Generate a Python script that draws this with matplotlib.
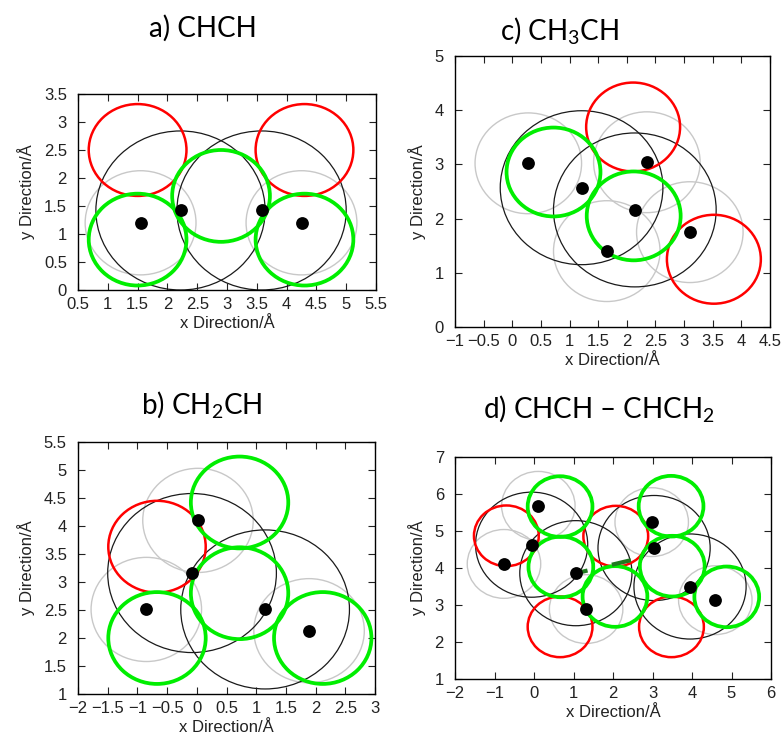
import matplotlib
matplotlib.use("Agg")
import matplotlib.pyplot as plt
from matplotlib.patches import Ellipse
from matplotlib.ticker import FuncFormatter
import numpy as np

W, H = 783, 738

# radii (Angstrom)
R_C = 1.42      # black, carbon sphere
R_H = 0.93      # grey, hydrogen sphere
R_SITE = 0.82   # green / red sites

# a) CHCH
a_carbon = [(2.22, 1.42), (3.58, 1.42)]
a_hydrogen = [(1.55, 1.20), (4.25, 1.20)]
a_green = [(1.50, 0.90), (2.90, 1.68), (4.30, 0.90)]
a_red = [(1.50, 2.50), (4.30, 2.50)]

# b) CH2CH
b_carbon = [(-0.08, 3.16), (1.15, 2.51)]
b_hydrogen = [(0.02, 4.10), (-0.85, 2.51), (1.89, 2.13)]
b_green = [(0.72, 4.42), (0.72, 2.80), (-0.67, 2.00), (2.12, 2.00)]
b_red = [(-0.67, 3.63)]

# c) CH3CH
c_carbon = [(1.21, 2.57), (2.14, 2.16)]
c_hydrogen = [(0.28, 3.02), (2.35, 3.04), (1.65, 1.40), (3.10, 1.75)]
c_green = [(0.72, 2.86), (2.12, 2.05)]
c_red = [(2.11, 3.69), (3.52, 1.25)]

# d) CHCH - CHCH2
d_carbon = [(-0.06, 4.63), (1.06, 3.86), (3.04, 4.54), (3.95, 3.50)]
d_hydrogen = [(0.11, 5.68), (-0.76, 4.11), (1.32, 2.89), (2.98, 5.24), (4.59, 3.13)]
d_green = [(0.66, 5.66), (0.68, 4.03), (2.05, 3.23), (3.47, 5.67), (3.50, 4.05), (4.88, 3.22)]
d_red = [(-0.70, 4.87), (2.07, 4.86), (0.66, 2.41), (3.48, 2.41)]
d_bond = [(1.15, 3.88), (2.45, 4.21)]

panels = [
    # title, title centre (px), axes box (l, t, r, b px), xlim, ylim, xticks, yticks, data
    ("a) CHCH", (203, 28), (78, 94, 376, 290), (0.5, 5.5), (0, 3.5),
     np.arange(0.5, 5.51, 0.5), np.arange(0, 3.51, 0.5),
     (a_carbon, a_hydrogen, a_green, a_red)),
    (r"c) CH$_3$CH", (559, 30), (455, 56, 770, 327), (-1, 4.5), (0, 5),
     np.arange(-1, 4.51, 0.5), np.arange(0, 5.01, 1),
     (c_carbon, c_hydrogen, c_green, c_red)),
    (r"b) CH$_2$CH", (202, 404), (78, 442, 375, 694), (-2, 3), (1, 5.5),
     np.arange(-2, 3.01, 0.5), np.arange(1, 5.51, 0.5),
     (b_carbon, b_hydrogen, b_green, b_red)),
    (r"d) CHCH – CHCH$_2$", (599, 408), (455, 457, 771, 679), (-2, 6), (1, 7),
     np.arange(-2, 6.01, 1), np.arange(1, 7.01, 1),
     (d_carbon, d_hydrogen, d_green, d_red)),
]

plt.rcParams["mathtext.fontset"] = "custom"
plt.rcParams["mathtext.rm"] = "Lato"
plt.rcParams["mathtext.it"] = "Lato"
plt.rcParams["mathtext.bf"] = "Lato"

TICK_FONT = "Liberation Sans"
fmt = FuncFormatter(lambda v, _: f"{v:g}".replace("-", "\u2212"))

fig = plt.figure(figsize=(W / 100, H / 100), dpi=100)


def rings(ax, centres, r, color, lw, z):
    for x, y in centres:
        ax.add_patch(Ellipse((x, y), 2 * r, 2 * r, fill=False, ec=color, lw=lw, zorder=z))


for title, (tx, ty), (l, t, r, b), xlim, ylim, xt, yt, (carbon, hydrogen, green, red) in panels:
    ax = fig.add_axes([l / W, 1 - b / H, (r - l) / W, (b - t) / H])
    rings(ax, hydrogen, R_H, "#c8c8c8", 1.0, 1)
    rings(ax, carbon, R_C, "#1a1a1a", 0.9, 2)
    rings(ax, red, R_SITE, "#ff0000", 1.8, 3)
    rings(ax, green, R_SITE, "#00ee00", 2.7, 4)
    if title.startswith("d)"):
        bx, by = zip(*d_bond)
        ax.plot(bx, by, color="#1f7a1f", lw=3, ls=(0, (2, 6, 5.5, 100)), zorder=5)
    atoms = carbon + hydrogen
    ax.scatter([p[0] for p in atoms], [p[1] for p in atoms], s=85, c="black", zorder=6, lw=0)

    ax.set_xlim(*xlim)
    ax.set_ylim(*ylim)
    ax.set_xticks(xt)
    ax.set_yticks(yt)
    ax.xaxis.set_major_formatter(fmt)
    ax.yaxis.set_major_formatter(fmt)
    ax.tick_params(direction="in", top=True, right=True, length=5, width=0.8,
                   labelsize=12, colors="#222222")
    ax.tick_params(axis="x", pad=5)
    ax.tick_params(axis="y", pad=8)
    for lab in ax.get_xticklabels() + ax.get_yticklabels():
        lab.set_fontfamily(TICK_FONT)
    for s in ax.spines.values():
        s.set_linewidth(1.0)
    ax.set_xlabel("x Direction/Å", fontsize=12, family=TICK_FONT, color="#222222", labelpad=3)
    ax.set_ylabel("y Direction/Å", fontsize=12, family=TICK_FONT, color="#222222", labelpad=6)
    fig.text(tx / W, 1 - ty / H, title, ha="center", va="center", fontsize=20, family="Lato")

fig.savefig("out.png", dpi=100)
